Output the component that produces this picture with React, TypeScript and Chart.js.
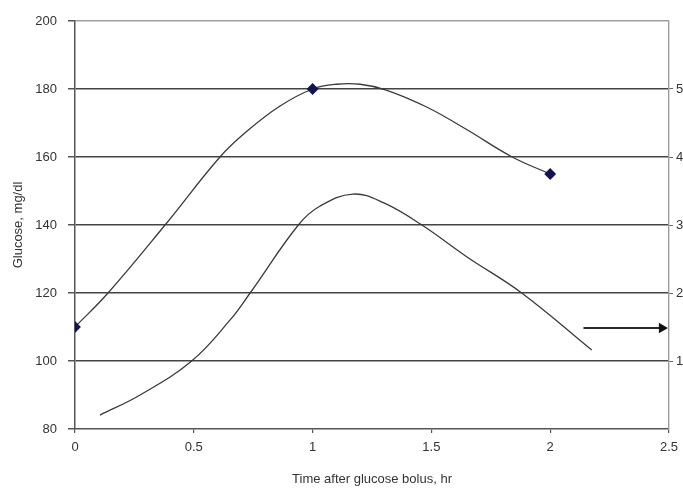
import React, { useEffect, useRef } from "react";
import { Chart, registerables } from "chart.js";

Chart.register(...registerables);

// Upper curve (glucose), markers at measured times
const upperX = [0, 0.139, 0.379, 0.61, 0.722, 0.863, 1, 1.1, 1.2, 1.31, 1.48, 1.65, 1.84, 2];
const upperY = [110, 120, 140, 160, 167.5, 175, 180, 181.4, 181.4, 179.7, 174.7, 168, 160, 155];
const markerTimes = [0, 1, 2];

// Lower curve (right axis series)
const lowerX = [0.105, 0.274, 0.491, 0.652, 0.737, 0.94, 1.03, 1.17, 1.3, 1.46, 1.65, 1.88, 2.175];
const lowerY = [84.1, 90, 100, 112, 120, 140, 145.5, 149.1, 146.5, 140, 130.6, 120, 103.2];

// Arrow pointing to right axis
const arrowX = [2.14, 2.47];
const arrowY = [109.7, 109.7];

const xTicks = [0, 0.5, 1, 1.5, 2, 2.5];
const leftTicks = [80, 100, 120, 140, 160, 180, 200];
const rightTickLabels = ["1", "2", "3", "4", "5"];

const xTitle = "Time after glucose bolus, hr";
const yTitle = "Glucose, mg/dl";

export default function App() {
  const ref = useRef<HTMLCanvasElement | null>(null);

  useEffect(() => {
    document.body.style.margin = "0";
    const canvas = ref.current;
    if (!canvas) return;
    const font = { family: "'Liberation Sans', Arial, sans-serif", size: 13 };
    const chart = new Chart(canvas, {
      type: "line",
      data: {
        datasets: [
          {
            data: upperX.map((x, i) => ({ x, y: upperY[i] })),
            borderColor: "#3a3a3a",
            borderWidth: 1.3,
            tension: 0.4,
            pointStyle: "rectRot",
            pointRadius: upperX.map((x) => (markerTimes.includes(x) ? 5 : 0)),
            pointBackgroundColor: "#141450",
            pointBorderColor: "#141450",
            yAxisID: "y",
          },
          {
            data: lowerX.map((x, i) => ({ x, y: lowerY[i] })),
            borderColor: "#3a3a3a",
            borderWidth: 1.3,
            tension: 0.4,
            pointRadius: 0,
            yAxisID: "y",
          },
          {
            data: arrowX.map((x, i) => ({ x, y: arrowY[i] })),
            borderColor: "#2a2a2a",
            borderWidth: 2,
            pointStyle: "triangle",
            pointRotation: 90,
            pointRadius: [0, 4],
            pointBackgroundColor: "#111",
            pointBorderColor: "#111",
            yAxisID: "y",
          },
        ],
      },
      options: {
        animation: false,
        responsive: false,
        maintainAspectRatio: false,
        layout: { padding: { top: 21, left: 0, right: 0, bottom: 0 } },
        plugins: { legend: { display: false }, tooltip: { enabled: false } },
        scales: {
          x: {
            type: "linear",
            min: 0,
            max: 2.5,
            afterBuildTicks: (s: any) => {
              s.ticks = xTicks.map((v) => ({ value: v }));
            },
            afterFit: (s: any) => {
              s.height = 61;
              s.paddingLeft = 0;
              s.paddingRight = 0;
            },
            ticks: {
              font,
              color: "#333",
              padding: 7,
              maxRotation: 0,
              callback: (v: any) => String(v),
            },
            grid: {
              color: (c: any) => (c.tick && c.tick.value === 2.5 ? "#9a9a9a" : "transparent"),
              tickColor: "#555",
              tickLength: 4,
              lineWidth: 1.2,
            },
            border: { color: "#555", width: 1.5 },
            title: { display: true, text: xTitle, font, color: "#333", padding: { top: 0, bottom: 3 } },
          },
          y: {
            type: "linear",
            position: "left",
            min: 80,
            max: 200,
            afterBuildTicks: (s: any) => {
              s.ticks = leftTicks.map((v) => ({ value: v }));
            },
            afterFit: (s: any) => {
              s.width = 75;
            },
            ticks: { font, color: "#333", padding: 11 },
            grid: {
              color: (c: any) => (c.tick && c.tick.value === 200 ? "#a0a0a0" : c.tick && c.tick.value === 80 ? "transparent" : "#444"),
              tickColor: "#555",
              tickLength: 7,
              lineWidth: 1.5,
            },
            border: { color: "#555", width: 1.5 },
            title: { display: true, text: yTitle, font, color: "#333", padding: { top: 11, bottom: 0 } },
          },
          y2: {
            type: "linear",
            position: "right",
            min: 80,
            max: 200,
            afterBuildTicks: (s: any) => {
              s.ticks = rightTickLabels.map((_, i) => ({ value: 100 + i * 20 }));
            },
            afterFit: (s: any) => {
              s.width = 14;
            },
            ticks: {
              font,
              color: "#333",
              padding: 3,
              callback: (v: any) => rightTickLabels[Math.round((Number(v) - 100) / 20)] ?? "",
            },
            grid: { drawOnChartArea: false, tickColor: "#666", tickLength: 4 },
            border: { color: "#9a9a9a", width: 1.2 },
          },
        },
      },
    });
    return () => chart.destroy();
  }, []);

  return (
    <div style={{ position: "fixed", left: 0, top: 0, width: 683, height: 490, background: "#fff" }}>
      <canvas ref={ref} width={683} height={490} style={{ width: 683, height: 490, display: "block" }} />
    </div>
  );
}
